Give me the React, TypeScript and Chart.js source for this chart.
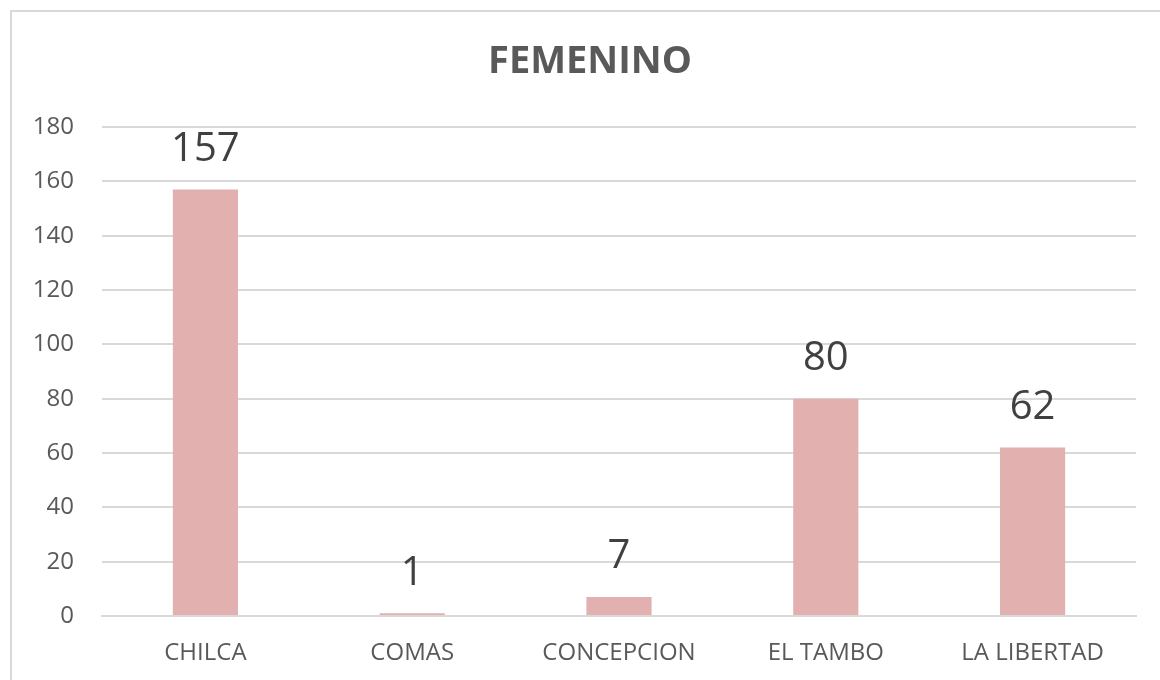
import React, { useEffect, useRef } from "react";
import { Chart, registerables } from "chart.js";

Chart.register(...registerables);

const chartTitle = "FEMENINO";
const categories = ["CHILCA", "COMAS", "CONCEPCION", "EL TAMBO", "LA LIBERTAD"];
const values = [157, 1, 7, 80, 62];
const yTicks = [0, 20, 40, 60, 80, 100, 120, 140, 160, 180];

const FONT = "'Open Sans', 'Noto Sans', sans-serif";

const overlayPlugin = {
  id: "overlay",
  afterDatasetsDraw(chart: any) {
    const ctx = chart.ctx;
    const meta = chart.getDatasetMeta(0);
    ctx.save();
    ctx.fillStyle = "#404040";
    ctx.font = `40px ${FONT}`;
    ctx.textAlign = "center";
    ctx.textBaseline = "middle";
    meta.data.forEach((bar: any, i: number) => {
      ctx.fillText(String(values[i]), bar.x, bar.y - 40);
    });
    ctx.fillStyle = "#595959";
    ctx.font = `bold 38px ${FONT}`;
    ctx.fillText(chartTitle, 590, 62);
    ctx.restore();
  },
};

export default function App() {
  const ref = useRef<HTMLCanvasElement | null>(null);
  useEffect(() => {
    if (!ref.current) return;
    const chart = new Chart(ref.current, {
      type: "bar",
      data: {
        labels: categories,
        datasets: [
          {
            data: values,
            backgroundColor: "#E1B0AF",
            barPercentage: 0.315,
            categoryPercentage: 1,
          },
        ],
      },
      options: {
        responsive: false,
        animation: false,
        layout: { padding: { left: 0, right: 24, top: 127, bottom: 0 } },
        plugins: { legend: { display: false }, tooltip: { enabled: false }, title: { display: false } },
        scales: {
          x: {
            grid: { display: false, drawTicks: false },
            border: { color: "#D9D9D9", width: 2 },
            ticks: { color: "#595959", font: { family: FONT, size: 24 }, padding: 23 },
            afterFit: (s: any) => {
              s.height = 64;
            },
          },
          y: {
            min: 0,
            max: 180,
            afterBuildTicks: (s: any) => {
              s.ticks = yTicks.map((v) => ({ value: v }));
            },
            grid: { color: "#D9D9D9", lineWidth: 2, drawTicks: false },
            border: { display: false },
            ticks: { color: "#595959", font: { family: FONT, size: 24 }, padding: 28 },
            afterFit: (s: any) => {
              s.width = 102;
            },
          },
        },
      },
      plugins: [overlayPlugin],
    });
    return () => chart.destroy();
  }, []);
  return (
    <div style={{ position: "fixed", left: 0, top: 0, width: 1160, height: 680, overflow: "hidden", background: "#fff" }}>
      <div
        style={{
          position: "absolute",
          left: 10,
          top: 10,
          width: 1200,
          height: 720,
          border: "2px solid #D9D9D9",
          boxSizing: "border-box",
        }}
      />
      <canvas ref={ref} width={1160} height={680} style={{ position: "absolute", left: 0, top: 0 }} />
    </div>
  );
}
